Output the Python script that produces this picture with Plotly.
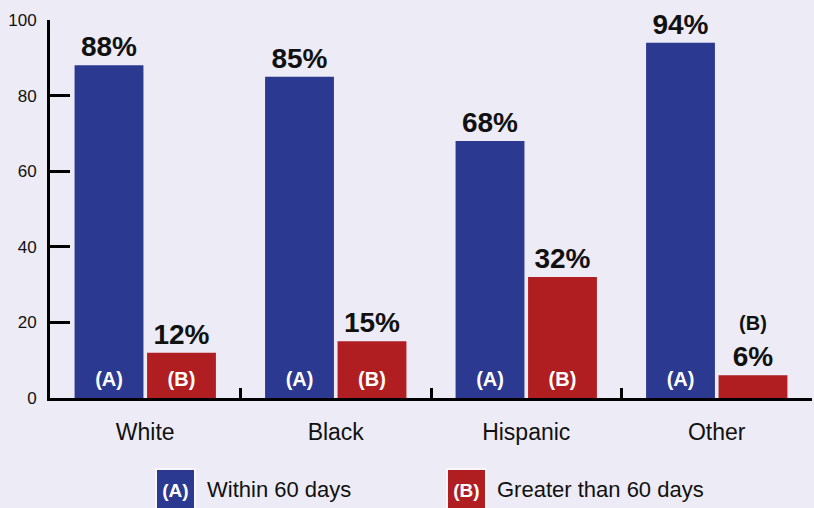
import plotly.graph_objects as go

# Share of cases resolved, by group
groups = ["White", "Black", "Hispanic", "Other"]
within_60 = [88, 85, 68, 94]
over_60 = [12, 15, 32, 6]
within_labels = ["88%", "85%", "68%", "94%"]
over_labels = ["12%", "15%", "32%",
               "<span style='font-size:20px'>(B)</span><br>6%"]
within_tags = ["(A)", "(A)", "(A)", "(A)"]
over_tags = ["(B)", "(B)", "(B)", ""]
y_ticks = [0, 20, 40, 60, 80, 100]

BLUE = "#2B3990"
RED = "#B11E22"
BG = "#EDEBF5"
FONT = "Liberation Sans, Arial, sans-serif"

fig = go.Figure()

fig.add_trace(go.Bar(
    x=groups, y=within_60, name="Within 60 days",
    marker=dict(color=BLUE, line=dict(width=0)),
    text=within_labels, textposition="outside", cliponaxis=False,
    constraintext="none",
    textfont=dict(family=FONT, size=28, color="#111111", weight="bold"),
    offsetgroup="A",
))
fig.add_trace(go.Bar(
    x=groups, y=over_60, name="Greater than 60 days",
    marker=dict(color=RED, line=dict(width=0)),
    text=over_labels, textposition="outside", cliponaxis=False,
    constraintext="none",
    textfont=dict(family=FONT, size=28, color="#111111", weight="bold"),
    offsetgroup="B",
))

# Series tags sitting at the foot of each bar (invisible anchor markers
# give the text a little lift off the baseline)
for tags, grp in ((within_tags, "A"), (over_tags, "B")):
    fig.add_trace(go.Scatter(
        x=groups, y=[0] * len(groups), mode="markers+text", text=tags,
        textposition="top center", cliponaxis=False, showlegend=False,
        marker=dict(size=9, color="rgba(0,0,0,0)"),
        textfont=dict(family=FONT, size=20, color="white", weight="bold"),
        offsetgroup=grp, hoverinfo="skip",
    ))

# Legend drawn as swatch + caption
legend_items = [
    ("(A)", "Within 60 days", BLUE, 0.1647, 0.2034),
    ("(B)", "Greater than 60 days", RED, 0.5472, 0.584),
]
annotations = []
for tag, caption, color, bx, tx in legend_items:
    annotations.append(dict(
        x=bx, y=-0.243, xref="paper", yref="paper", xanchor="center",
        yanchor="middle", text=tag, showarrow=False,
        font=dict(family=FONT, size=19, color="white", weight="bold"),
        bgcolor=color, bordercolor="#F7F6FB", borderwidth=2,
        width=35, height=38, align="center", valign="middle",
    ))
    annotations.append(dict(
        x=tx, y=-0.243, xref="paper", yref="paper", xanchor="left",
        yanchor="middle", text=caption, showarrow=False,
        font=dict(family=FONT, size=22, color="#111111"),
    ))

fig.update_layout(
    width=814, height=508,
    margin=dict(l=50, r=2, t=20, b=110),
    paper_bgcolor=BG, plot_bgcolor=BG,
    barmode="group", bargap=0.239, bargroupgap=0.05,
    scattermode="group", scattergap=0.239,
    showlegend=False,
    annotations=annotations,
    xaxis=dict(
        type="category", range=[-0.5, 3.5],
        showline=True, linecolor="black", linewidth=3,
        ticks="inside", tickson="boundaries", ticklen=10, tickwidth=3,
        tickcolor="black", showgrid=False, zeroline=False,
        tickfont=dict(family=FONT, size=23, color="#111111"),
        ticklabelstandoff=11,
    ),
    yaxis=dict(
        range=[0, 100], tickvals=y_ticks,
        showline=True, linecolor="black", linewidth=3,
        ticks="inside", ticklen=20, tickwidth=3, tickcolor="black",
        showgrid=False, zeroline=False,
        tickfont=dict(family=FONT, size=17, color="#111111"),
        ticklabelstandoff=7,
    ),
)

fig.write_html("out.html")
